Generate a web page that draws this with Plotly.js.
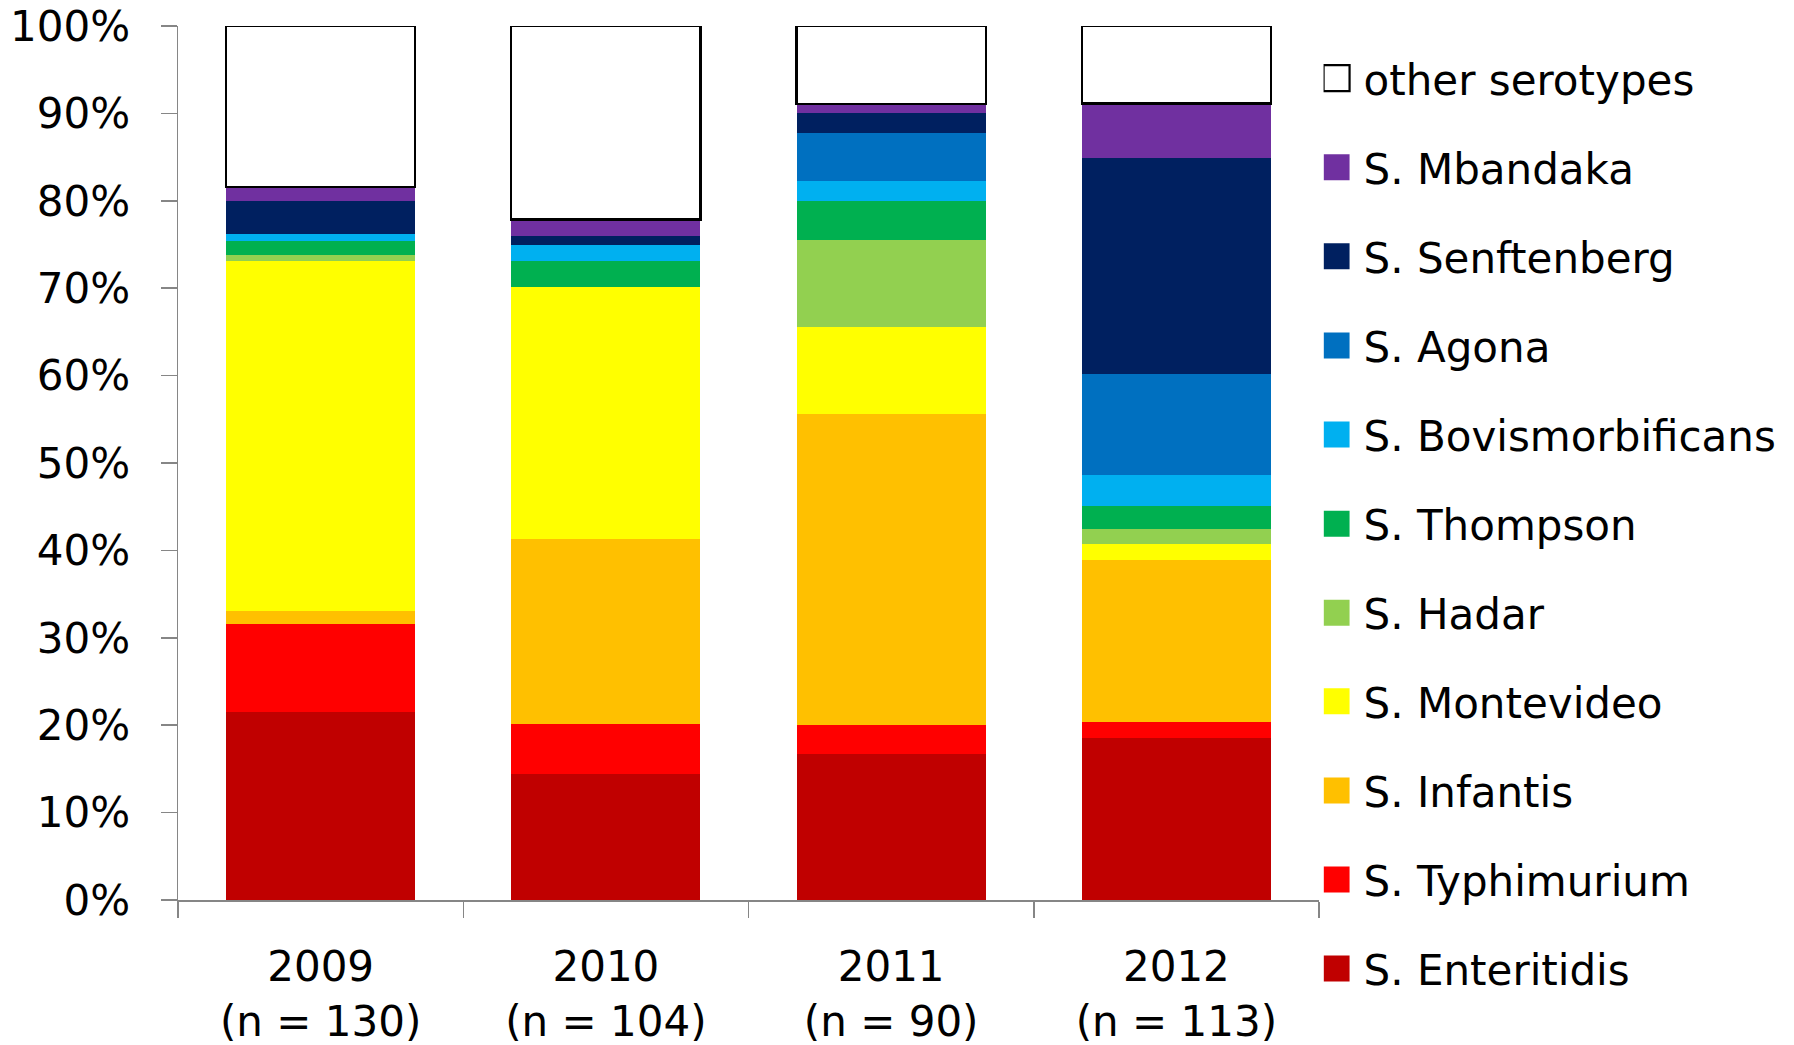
<!DOCTYPE html>
<html>
<head>
<meta charset="utf-8">
<script src="https://cdn.plot.ly/plotly-3.0.1.min.js"></script>
<style>html,body{margin:0;padding:0;background:#fff;}</style>
</head>
<body>
<div id="chart" style="width:1794px;height:1045px;"></div>
<script>
// Categories / tick labels
const years = ['2009', '2010', '2011', '2012'];
const sampleSizes = ['(n = 130)', '(n = 104)', '(n = 90)', '(n = 113)'];

// Series values (% of isolates per year)
const enteritidis  = [21.54, 14.42, 16.67, 18.58];
const typhimurium  = [10.00,  5.77,  3.33,  1.77];
const infantis     = [ 1.54, 21.15, 35.56, 18.58];
const montevideo   = [40.00, 28.85, 10.00,  1.77];
const hadar        = [ 0.77,  0.00, 10.00,  1.77];
const thompson     = [ 1.54,  2.88,  4.44,  2.65];
const bovismorbificans = [0.77, 1.92, 2.22, 3.54];
const agona        = [ 0.00,  0.00,  5.56, 11.50];
const senftenberg  = [ 3.85,  0.96,  2.22, 24.78];
const mbandaka     = [ 1.54,  1.92,  1.11,  6.19];
const otherSerotypes = [18.46, 22.12, 8.89, 8.85];

const seriesNames = ['S. Enteritidis', 'S. Typhimurium', 'S. Infantis', 'S. Montevideo',
  'S. Hadar', 'S. Thompson', 'S. Bovismorbificans', 'S. Agona', 'S. Senftenberg',
  'S. Mbandaka', 'other serotypes'];
const seriesValues = [enteritidis, typhimurium, infantis, montevideo, hadar, thompson,
  bovismorbificans, agona, senftenberg, mbandaka, otherSerotypes];
const seriesColors = ['#C00000', '#FF0000', '#FFC000', '#FFFF00', '#92D050', '#00B050',
  '#00B0F0', '#0070C0', '#002060', '#7030A0', '#FFFFFF'];

const categories = years.map((y, i) => y + '<br>' + sampleSizes[i]);

const FONT = 'Tahoma, "DejaVu Sans", sans-serif';

// the legend is split in two boxes (top 7 entries / bottom 4) so it fits the page height
const traces = seriesNames.map((name, i) => {
  const isOther = name === 'other serotypes';
  return {
    type: 'bar',
    name: name,
    x: categories,
    y: seriesValues[i],
    legend: i >= 4 ? 'legend' : 'legend2',
    legendgroup: 'g' + i,
    legendrank: seriesNames.length - i,
    cliponaxis: !isOther,
    marker: {
      color: seriesColors[i],
      line: isOther ? {color: '#000000', width: 2.2} : {width: 0}
    },
    hoverinfo: 'name+y'
  };
});

const legendBase = {
  x: 1.004, xanchor: 'left',
  yanchor: 'top',
  traceorder: 'grouped',
  tracegroupgap: 31.5,
  font: {family: FONT, size: 42, color: '#000000'},
  bgcolor: 'rgba(0,0,0,0)',
  borderwidth: 0
};

const layout = {
  width: 1794,
  height: 1045,
  margin: {l: 178, r: 472, t: 26, b: 145},
  paper_bgcolor: '#ffffff',
  plot_bgcolor: '#ffffff',
  barmode: 'stack',
  bargap: 0.337,
  font: {family: FONT, size: 42, color: '#000000'},
  showlegend: true,
  legend: Object.assign({}, legendBase, {y: 0.979}),
  legend2: Object.assign({}, legendBase, {y: 0.2660}),
  xaxis: {
    type: 'category',
    showline: true,
    linecolor: '#868686',
    linewidth: 1.5,
    ticks: 'outside',
    tickson: 'boundaries',
    ticklen: 16,
    tickwidth: 1.5,
    tickcolor: '#868686',
    showgrid: false,
    zeroline: false,
    ticklabelstandoff: 29,
    tickfont: {family: FONT, size: 42, color: '#000000'}
  },
  yaxis: {
    range: [0, 100],
    dtick: 10,
    tick0: 0,
    ticksuffix: '%',
    showline: true,
    linecolor: '#868686',
    linewidth: 1.5,
    ticks: 'outside',
    ticklen: 16,
    tickwidth: 1.5,
    tickcolor: '#868686',
    showgrid: false,
    zeroline: false,
    ticklabelstandoff: 22,
    tickfont: {family: FONT, size: 42, color: '#000000'}
  }
};

Plotly.newPlot('chart', traces, layout, {displayModeBar: false, staticPlot: true}).then(gd => {
  // enlarge legend swatches to match the reference squares
  gd.querySelectorAll('.legendpoints path').forEach(p => {
    p.setAttribute('d', 'M6,13H-20V-13H6Z');
  });
});
</script>
</body>
</html>
